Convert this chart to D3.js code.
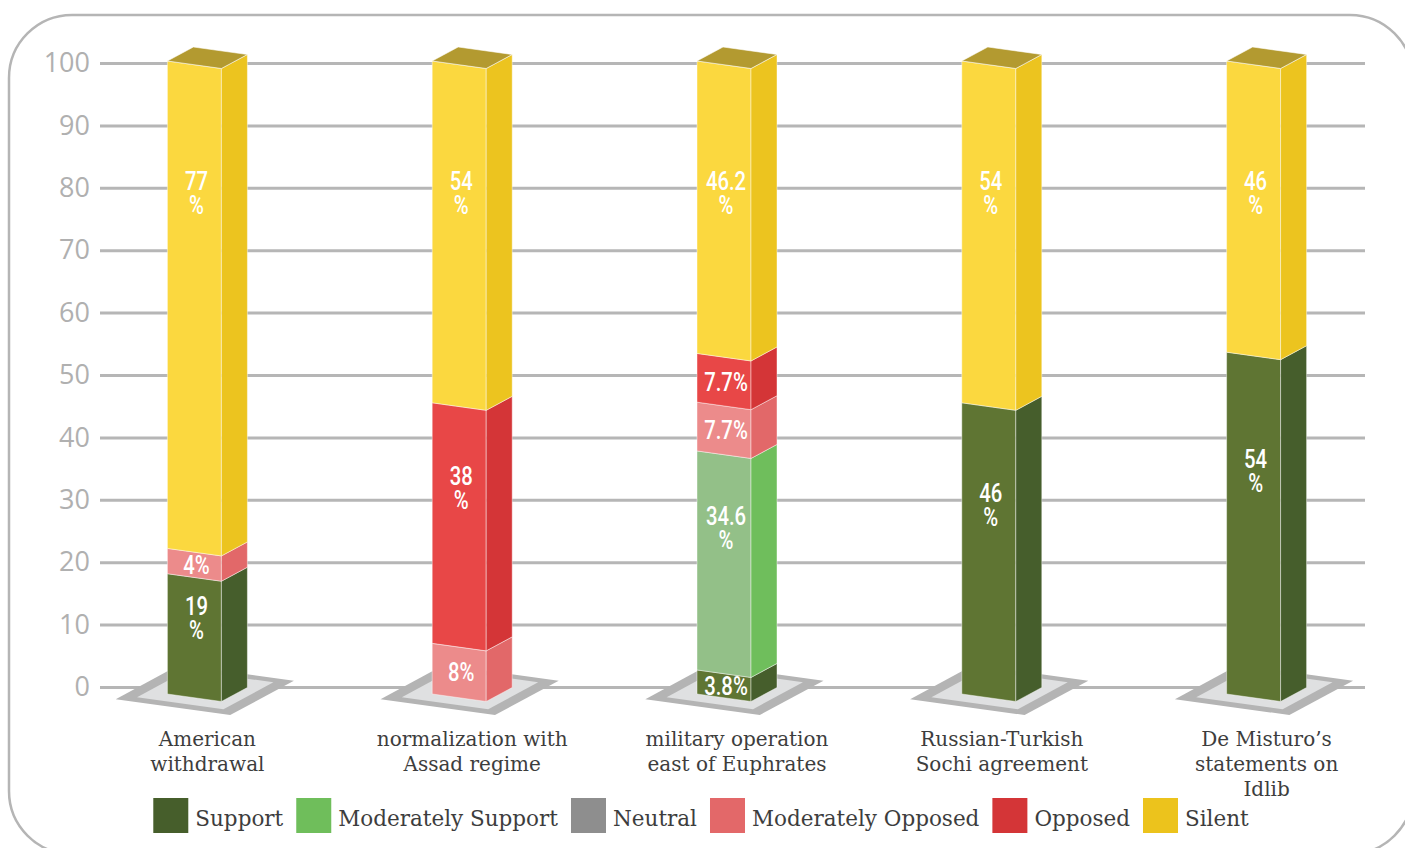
<!DOCTYPE html>
<html>
<head>
<meta charset="utf-8">
<script src="https://cdn.jsdelivr.net/npm/d3@7"></script>
<style>
  html, body { margin: 0; padding: 0; background: #ffffff; }
  svg { display: block; }
</style>
</head>
<body>
<svg id="chart" width="1405" height="848"></svg>
<script>
// ---- data ----
const categories = [
  "American withdrawal",
  "normalization with Assad regime",
  "military operation east of Euphrates",
  "Russian-Turkish Sochi agreement",
  "De Misturo’s statements on Idlib"
];
const categoryLines = [
  ["American", "withdrawal"],
  ["normalization with", "Assad regime"],
  ["military operation", "east of Euphrates"],
  ["Russian-Turkish", "Sochi agreement"],
  ["De Misturo’s", "statements on", "Idlib"]
];
const seriesNames = ["Support", "Moderately Support", "Neutral", "Moderately Opposed", "Opposed", "Silent"];
const support            = [19, 0, 3.8, 46, 54];
const moderatelySupport  = [0, 0, 34.6, 0, 0];
const neutral            = [0, 0, 0, 0, 0];
const moderatelyOpposed  = [4, 8, 7.7, 0, 0];
const opposed            = [0, 38, 7.7, 0, 0];
const silent             = [77, 54, 46.2, 54, 46];
const yTicks = [0, 10, 20, 30, 40, 50, 60, 70, 80, 90, 100];

// colours: front face, side face, legend swatch
const frontColors  = ["#5f7533", "#93c088", "#a3a3a3", "#ec8b8b", "#e84747", "#fbd83f"];
const sideColors   = ["#465e2c", "#6fbe5c", "#8e8e8e", "#e26869", "#d43537", "#ecc41f"];
const legendColors = ["#465e2b", "#6fbe5b", "#8e8e8e", "#e36869", "#d43537", "#ecc31c"];
const capColor = "#b39a30";

// ---- table for the stack ----
const seriesValues = [support, moderatelySupport, neutral, moderatelyOpposed, opposed, silent];
const rows = categories.map((c, i) => {
  const r = { category: c };
  seriesNames.forEach((s, k) => { r[s] = seriesValues[k][i]; });
  return r;
});
const stacked = d3.stack().keys(seriesNames)(rows);

// ---- layout ----
const svg = d3.select("#chart");
const gridLeft = 100, gridRight = 1365;

// frame
svg.append("rect")
  .attr("x", 9).attr("y", 15)
  .attr("width", 1404).attr("height", 839)
  .attr("rx", 63).attr("ry", 63)
  .attr("fill", "none")
  .attr("stroke", "#b5b5b5")
  .attr("stroke-width", 2.5);

// value axis on the back wall
const yAxisScale = d3.scaleLinear().domain([0, 100]).range([687, 63]);
// the column front faces stand slightly ahead of the wall, so they read a little taller
const yBar = d3.scaleLinear().domain([0, 100]).range([694, 61]);

const xBand = d3.scaleBand().domain(categories).range([75, 1399]).paddingInner(0).paddingOuter(0);

const axis = d3.axisLeft(yAxisScale)
  .tickValues(yTicks)
  .tickSize(-(gridRight - gridLeft))
  .tickPadding(10)
  .tickFormat(d3.format("d"));

const axisG = svg.append("g")
  .attr("transform", `translate(${gridLeft},0)`)
  .call(axis);
axisG.select(".domain").remove();
axisG.selectAll(".tick line")
  .attr("stroke", "#b6b6b6")
  .attr("stroke-width", 3);
axisG.selectAll(".tick text")
  .attr("fill", "#b0b0b0")
  .attr("font-family", "'Open Sans', 'Noto Sans', sans-serif")
  .attr("font-size", 27)
  .attr("font-weight", 400);

// ---- 3-D columns ----
const FACE_W = 54;       // front face width
const SLANT = 7.5;       // drop of the front face's right edge
const DX = 26, DY = -14; // depth vector

const poly = pts => "M" + pts.map(p => p.join(",")).join("L") + "Z";

const columns = svg.append("g").attr("class", "columns");

categories.forEach((cat, i) => {
  const cx = xBand(cat) + xBand.bandwidth() / 2;
  const L = cx - (FACE_W + DX) / 2;
  const R = L + FACE_W;
  const g = columns.append("g");

  // floor plate under the column
  const base = [L, yBar(0)];
  const u = [FACE_W, SLANT], v = [DX, DY];
  const pt = (a, b) => [base[0] + a * u[0] + b * v[0], base[1] + a * u[1] + b * v[1]];
  g.append("path")
    .attr("d", poly([pt(-0.62, -0.7), pt(1.5, -0.7), pt(1.5, 1.75), pt(-0.62, 1.75)]))
    .attr("fill", "#b4b4b4");
  g.append("path")
    .attr("d", poly([pt(-0.36, -0.42), pt(1.24, -0.42), pt(1.24, 1.5), pt(-0.36, 1.5)]))
    .attr("fill", "#dfe0e1");

  // segments, bottom to top
  const segs = stacked.map((s, k) => ({ k, v0: s[i][0], v1: s[i][1] }))
    .filter(d => d.v1 - d.v0 > 0);

  segs.forEach(d => {
    const y0 = yBar(d.v0), y1 = yBar(d.v1);
    g.append("path")
      .attr("d", poly([[L, y0], [R, y0 + SLANT], [R, y1 + SLANT], [L, y1]]))
      .attr("fill", frontColors[d.k])
      .attr("stroke", "rgba(255,255,255,0.55)")
      .attr("stroke-width", 0.8);
    g.append("path")
      .attr("d", poly([[R, y0 + SLANT], [R + DX, y0 + SLANT + DY], [R + DX, y1 + SLANT + DY], [R, y1 + SLANT]]))
      .attr("fill", sideColors[d.k])
      .attr("stroke", "rgba(255,255,255,0.55)")
      .attr("stroke-width", 0.8);
  });

  // cap of the column
  const top = segs[segs.length - 1];
  const yt = yBar(top.v1);
  g.append("path")
    .attr("d", poly([[L, yt], [R, yt + SLANT], [R + DX, yt + SLANT + DY], [L + DX, yt + DY]]))
    .attr("fill", capColor)
    .attr("stroke", "rgba(255,255,255,0.7)")
    .attr("stroke-width", 0.8);

  // value labels
  const lx = L + 29;
  segs.forEach((d, j) => {
    const val = d.v1 - d.v0;
    const txt = d3.format("~g")(+val.toFixed(1));
    const y0 = yBar(d.v0), y1 = yBar(d.v1);
    const h = y0 - y1;
    const lines = val < 10 ? [txt + "%"] : [txt, "%"];
    let baseline;
    if (lines.length === 1) {
      baseline = (y0 + y1) / 2 + SLANT / 2 + 9;
    } else if (j === segs.length - 1) {
      baseline = y1 + 129;
    } else {
      baseline = y1 + 0.34 * h;
    }
    const t = g.append("text")
      .attr("transform", `translate(${lx},${baseline}) scale(0.78,1)`)
      .attr("text-anchor", "middle")
      .attr("fill", "#ffffff")
      .attr("font-family", "Roboto, 'Open Sans', sans-serif")
      .attr("font-weight", 500)
      .attr("font-size", 26);
    lines.forEach((s, li) => {
      t.append("tspan").attr("x", 0).attr("y", li * 24).text(s);
    });
  });

  // category label
  const lab = svg.append("text")
    .attr("text-anchor", "middle")
    .attr("fill", "#3d3d3d")
    .attr("font-family", "'DejaVu Serif', serif")
    .attr("font-size", 20);
  categoryLines[i].forEach((line, li) => {
    lab.append("tspan").attr("x", cx).attr("y", 746 + li * 25).text(line);
  });
});

// ---- legend ----
const legend = svg.append("g");
const items = legend.selectAll("g").data(seriesNames).join("g");
items.append("rect")
  .attr("width", 35).attr("height", 35)
  .attr("y", 798)
  .attr("fill", (d, k) => legendColors[k]);
items.append("text")
  .attr("x", 42).attr("y", 826)
  .attr("fill", "#3d3d3d")
  .attr("font-family", "'DejaVu Serif', serif")
  .attr("font-size", 21.5)
  .text(d => d);
const widths = [];
items.each(function () {
  const w = d3.select(this).select("text").node().getComputedTextLength();
  widths.push(42 + w);
});
const total = d3.sum(widths) + 13 * (widths.length - 1);
let x = 701 - total / 2;
items.each(function (d, k) {
  d3.select(this).attr("transform", `translate(${x},0)`);
  x += widths[k] + 13;
});
</script>
</body>
</html>
